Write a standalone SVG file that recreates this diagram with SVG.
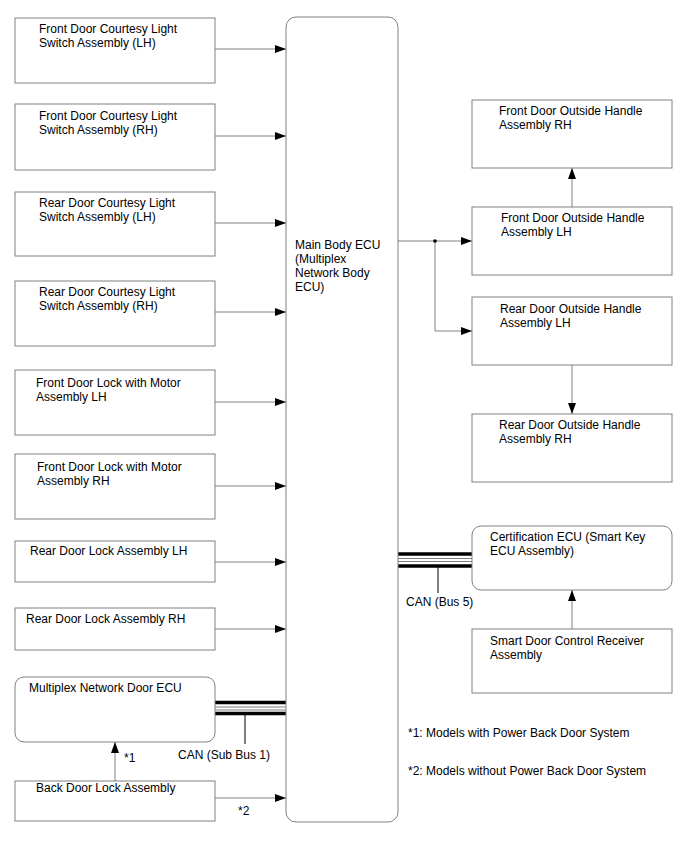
<svg xmlns="http://www.w3.org/2000/svg" width="688" height="852" viewBox="0 0 688 852">
<style>
.box{fill:#fff;stroke:#808080;stroke-width:1}
.t{font-family:"Liberation Sans",Arial,sans-serif;font-size:12px;fill:#000}
.c{stroke:#808080;stroke-width:1;fill:none}
.thick{stroke:#000;stroke-width:3.5}
.thin{stroke:#808080;stroke-width:1}
</style>
<defs>
<marker id="ah" markerUnits="userSpaceOnUse" markerWidth="12" markerHeight="8" refX="11" refY="4" orient="auto">
<path d="M0,0 L11,4 L0,8 Z" fill="#000"/>
</marker>
</defs>
<rect width="688" height="852" fill="#fff"/>
<g id="connectors">
<path class="c" d="M215,49 H286" marker-end="url(#ah)"/>
<path class="c" d="M215,136 H286" marker-end="url(#ah)"/>
<path class="c" d="M215,223 H286" marker-end="url(#ah)"/>
<path class="c" d="M215,312 H286" marker-end="url(#ah)"/>
<path class="c" d="M215,402 H286" marker-end="url(#ah)"/>
<path class="c" d="M215,486 H286" marker-end="url(#ah)"/>
<path class="c" d="M215,562 H286" marker-end="url(#ah)"/>
<path class="c" d="M215,629 H286" marker-end="url(#ah)"/>
<path class="c" d="M215,798 H286" marker-end="url(#ah)"/>
<path class="c" d="M115,781 V742" marker-end="url(#ah)"/>
<path class="c" d="M398,241 H472" marker-end="url(#ah)"/>
<path class="c" d="M435,241 V331 H472" marker-end="url(#ah)"/>
<circle cx="435" cy="241" r="1.8" fill="#000"/>
<path class="c" d="M572,207 V168" marker-end="url(#ah)"/>
<path class="c" d="M572,365 V414" marker-end="url(#ah)"/>
<path class="c" d="M572,629 V590" marker-end="url(#ah)"/>
<g id="can-sub-bus-1">
<line class="thick" x1="215" y1="702.5" x2="286" y2="702.5"/>
<line class="thin" x1="215" y1="707" x2="286" y2="707"/>
<line class="thin" x1="215" y1="710" x2="286" y2="710"/>
<line class="thick" x1="215" y1="713.5" x2="286" y2="713.5"/>
<line x1="245" y1="714" x2="245" y2="744" stroke="#000" stroke-width="1"/>
<text class="t" x="178" y="759">CAN (Sub Bus 1)</text>
</g>
<g id="can-bus-5">
<line class="thick" x1="398" y1="554" x2="472" y2="554"/>
<line class="thin" x1="398" y1="558.5" x2="472" y2="558.5"/>
<line class="thin" x1="398" y1="561.5" x2="472" y2="561.5"/>
<line class="thick" x1="398" y1="566" x2="472" y2="566"/>
<line x1="438" y1="566" x2="438" y2="593" stroke="#000" stroke-width="1"/>
<text class="t" x="406" y="606">CAN (Bus 5)</text>
</g>
<text class="t" x="124" y="762">*1</text>
<text class="t" x="238" y="815">*2</text>
</g>
<g id="main-ecu">
<rect class="box" x="286" y="17" width="112" height="805" rx="10"/>
<text class="t" x="295" y="249">Main Body ECU</text>
<text class="t" x="295" y="263">(Multiplex</text>
<text class="t" x="295" y="277">Network Body</text>
<text class="t" x="295" y="291">ECU)</text>
</g>
<g id="fd-courtesy-lh">
<rect class="box" x="15" y="18" width="200" height="65"/>
<text class="t" x="39" y="33">Front Door Courtesy Light</text>
<text class="t" x="39" y="47">Switch Assembly (LH)</text>
</g>
<g id="fd-courtesy-rh">
<rect class="box" x="15" y="104" width="200" height="66"/>
<text class="t" x="39" y="120">Front Door Courtesy Light</text>
<text class="t" x="39" y="134">Switch Assembly (RH)</text>
</g>
<g id="rd-courtesy-lh">
<rect class="box" x="15" y="192" width="200" height="64"/>
<text class="t" x="39" y="207">Rear Door Courtesy Light</text>
<text class="t" x="39" y="221">Switch Assembly (LH)</text>
</g>
<g id="rd-courtesy-rh">
<rect class="box" x="15" y="281" width="200" height="65"/>
<text class="t" x="39" y="296">Rear Door Courtesy Light</text>
<text class="t" x="39" y="310">Switch Assembly (RH)</text>
</g>
<g id="fd-lock-lh">
<rect class="box" x="15" y="370" width="200" height="65"/>
<text class="t" x="36" y="387">Front Door Lock with Motor</text>
<text class="t" x="36" y="401">Assembly LH</text>
</g>
<g id="fd-lock-rh">
<rect class="box" x="15" y="454" width="200" height="65"/>
<text class="t" x="37" y="471">Front Door Lock with Motor</text>
<text class="t" x="37" y="485">Assembly RH</text>
</g>
<g id="rd-lock-lh">
<rect class="box" x="15" y="541" width="200" height="41"/>
<text class="t" x="30" y="555">Rear Door Lock Assembly LH</text>
</g>
<g id="rd-lock-rh">
<rect class="box" x="15" y="608" width="200" height="42"/>
<text class="t" x="26" y="623">Rear Door Lock Assembly RH</text>
</g>
<g id="multiplex-door-ecu">
<rect class="box" x="15" y="677" width="200" height="65" rx="9"/>
<text class="t" x="29" y="692">Multiplex Network Door ECU</text>
</g>
<g id="back-door-lock">
<rect class="box" x="15" y="781" width="200" height="40"/>
<text class="t" x="36" y="792">Back Door Lock Assembly</text>
</g>
<g id="fd-handle-rh">
<rect class="box" x="472" y="100" width="200" height="68"/>
<text class="t" x="499" y="115">Front Door Outside Handle</text>
<text class="t" x="499" y="129">Assembly RH</text>
</g>
<g id="fd-handle-lh">
<rect class="box" x="472" y="207" width="200" height="68"/>
<text class="t" x="501" y="222">Front Door Outside Handle</text>
<text class="t" x="501" y="236">Assembly LH</text>
</g>
<g id="rd-handle-lh">
<rect class="box" x="472" y="297" width="200" height="68"/>
<text class="t" x="500" y="313">Rear Door Outside Handle</text>
<text class="t" x="500" y="327">Assembly LH</text>
</g>
<g id="rd-handle-rh">
<rect class="box" x="472" y="414" width="200" height="68"/>
<text class="t" x="499" y="429">Rear Door Outside Handle</text>
<text class="t" x="499" y="443">Assembly RH</text>
</g>
<g id="certification-ecu">
<rect class="box" x="472" y="526" width="200" height="64" rx="9"/>
<text class="t" x="490" y="541">Certification ECU (Smart Key</text>
<text class="t" x="490" y="555">ECU Assembly)</text>
</g>
<g id="smart-door-receiver">
<rect class="box" x="472" y="629" width="200" height="64"/>
<text class="t" x="490" y="645">Smart Door Control Receiver</text>
<text class="t" x="490" y="659">Assembly</text>
</g>
<g id="notes">
<text class="t" x="408" y="737">*1: Models with Power Back Door System</text>
<text class="t" x="408" y="775">*2: Models without Power Back Door System</text>
</g>
</svg>
